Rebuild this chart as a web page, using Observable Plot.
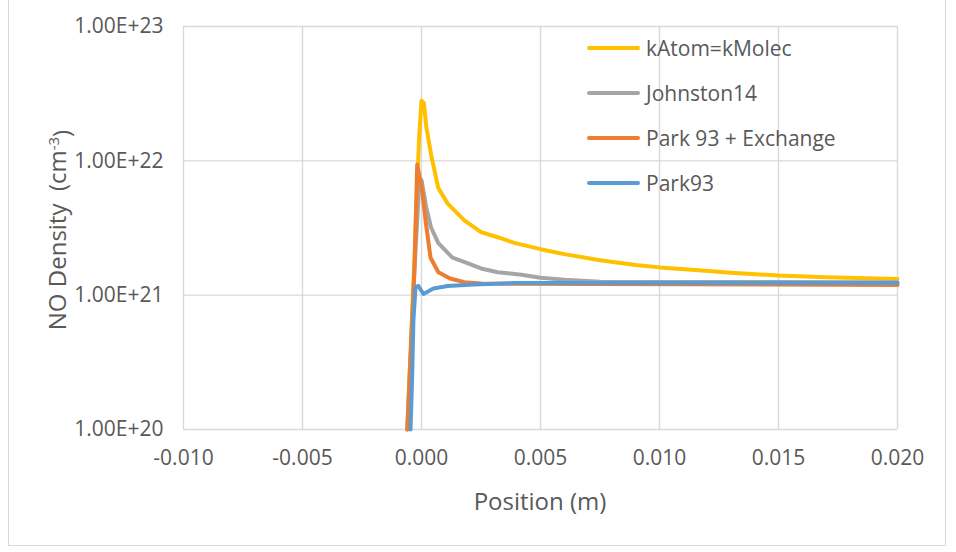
<!DOCTYPE html>
<html><head><meta charset="utf-8">
<script src="https://cdn.jsdelivr.net/npm/d3@7"></script>
<script src="https://cdn.jsdelivr.net/npm/@observablehq/plot@0.6"></script>
<style>
body{margin:0;background:#fff;}
#wrap{position:relative;width:956px;height:552px;overflow:hidden;font-family:"Open Sans",sans-serif;color:#595959;}
#border{position:absolute;left:8px;top:-2px;width:938px;height:548px;border:1px solid #D9D9D9;box-sizing:border-box;}
#legend{position:absolute;left:587px;top:25px;font-size:21px;}
.row{display:flex;align-items:center;height:45px;}
.sw{width:53px;height:4px;border-radius:2px;margin-right:6px;}
</style></head>
<body><div id="wrap"><div id="border"></div></div>
<script>
const seriesNames = ["kAtom=kMolec", "Johnston14", "Park 93 + Exchange", "Park93"];
const seriesColors = ["#FFC000", "#A5A5A5", "#ED7D31", "#5B9BD5"];

const xKAtom = [-0.0006, -0.0003, -0.0001, 0.0, 0.0001, 0.0002, 0.0004, 0.0007, 0.0011, 0.0018, 0.0025, 0.0032, 0.0039, 0.0050, 0.0060, 0.0075, 0.0090, 0.0100, 0.0115, 0.0130, 0.0150, 0.0170, 0.0200];
const yKAtom = [1e20, 1.8e21, 1.5e22, 2.8e22, 2.7e22, 1.8e22, 1.12e22, 6.3e21, 4.8e21, 3.6e21, 2.95e21, 2.7e21, 2.45e21, 2.2e21, 2.02e21, 1.82e21, 1.68e21, 1.61e21, 1.54e21, 1.47e21, 1.40e21, 1.36e21, 1.32e21];

const xJohnston = [-0.0006, -0.0003, -0.0001, 0.0000, 0.0002, 0.0004, 0.0007, 0.0013, 0.0019, 0.0025, 0.0032, 0.0042, 0.0050, 0.0060, 0.0075, 0.0200];
const yJohnston = [1e20, 1.5e21, 6.5e21, 7.2e21, 4.5e21, 3.2e21, 2.45e21, 1.9e21, 1.74e21, 1.58e21, 1.48e21, 1.42e21, 1.35e21, 1.30e21, 1.26e21, 1.25e21];

const xParkEx = [-0.00059, -0.0003, -0.00018, 0.00003, 0.00017, 0.00038, 0.00071, 0.0012, 0.0018, 0.0025, 0.0200];
const yParkEx = [1e20, 1.5e21, 9.4e21, 6.0e21, 3.6e21, 1.9e21, 1.48e21, 1.33e21, 1.25e21, 1.22e21, 1.19e21];

const xPark = [-0.00046, -0.00039, -0.00034, -0.00025, -0.00013, 0.00008, 0.0005, 0.0011, 0.0022, 0.0039, 0.0200];
const yPark = [1e20, 2.6e20, 6.5e20, 1.15e21, 1.17e21, 1.02e21, 1.12e21, 1.17e21, 1.20e21, 1.23e21, 1.23e21];

const xTicks = [-0.010, -0.005, 0.000, 0.005, 0.010, 0.015, 0.020];
const yTicks = [1e20, 1e21, 1e22, 1e23];
const xTitle = "Position (m)";
const yTitle = "NO Density  (cm";

const allX = [xKAtom, xJohnston, xParkEx, xPark];
const allY = [yKAtom, yJohnston, yParkEx, yPark];
const rows = [];
allX.forEach((xs, i) => xs.forEach((x, j) => rows.push({series: seriesNames[i], x, y: allY[i][j]})));

const chart = Plot.plot({
  width: 956, height: 552,
  marginLeft: 183, marginRight: 59, marginTop: 26, marginBottom: 123,
  style: {fontFamily: "'Open Sans', sans-serif", fontSize: "21px", color: "#595959", background: "transparent"},
  x: {domain: [-0.010, 0.020]},
  y: {type: "log", domain: [1e20, 1e23]},
  color: {domain: seriesNames, range: seriesColors},
  marks: [
    Plot.gridX(xTicks, {stroke: "#D9D9D9", strokeOpacity: 1, strokeWidth: 1.4}),
    Plot.gridY(yTicks, {stroke: "#D9D9D9", strokeOpacity: 1, strokeWidth: 1.4}),
    Plot.axisX({ticks: xTicks, tickFormat: d => d.toFixed(3), tickSize: 0, tickPadding: 21, label: null}),
    Plot.axisY({ticks: yTicks, tickFormat: d => "1.00E+" + Math.round(Math.log10(d)), tickSize: 0, tickPadding: 20, label: null}),
    Plot.line(rows, {x: "x", y: "y", z: "series", stroke: "series", strokeWidth: 4, strokeLinejoin: "round", strokeLinecap: "round"})
  ]
});
chart.style.position = "absolute";
chart.style.left = "0px";
chart.style.top = "0px";
const wrap = document.getElementById("wrap");
wrap.appendChild(chart);

const svg = d3.select(chart);
svg.append("text").attr("x", 540).attr("y", 510).attr("text-anchor", "middle")
  .attr("fill", "#595959").style("font-size", "24px").text(xTitle);
const yt = svg.append("text").attr("transform", "translate(66,230) rotate(-90)").attr("text-anchor", "middle")
  .attr("fill", "#595959").style("font-size", "24px");
yt.append("tspan").text(yTitle);
yt.append("tspan").attr("dy", "-0.45em").style("font-size", "15px").text("-3");
yt.append("tspan").attr("dy", "0.45em").text(")");

const legend = d3.select(wrap).append("div").attr("id", "legend");
seriesNames.forEach((n, i) => {
  const r = legend.append("div").attr("class", "row");
  r.append("div").attr("class", "sw").style("background", seriesColors[i]);
  r.append("span").text(n);
});
</script></body></html>
